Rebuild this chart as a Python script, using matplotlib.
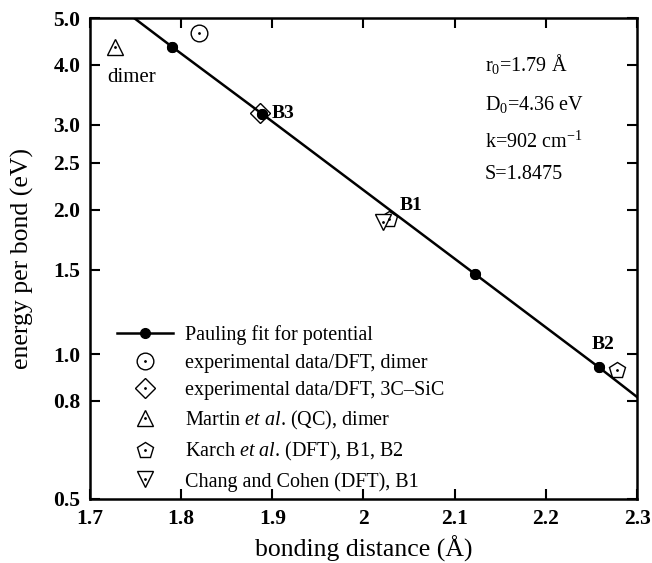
import matplotlib
matplotlib.use("Agg")
import matplotlib.pyplot as plt

plt.rcParams["font.family"] = "Liberation Serif"
plt.rcParams["mathtext.fontset"] = "custom"
plt.rcParams["mathtext.rm"] = "Liberation Serif"
plt.rcParams["mathtext.it"] = "Liberation Serif:italic"
plt.rcParams["mathtext.bf"] = "Liberation Serif:bold"

# Pauling fit line (ends + the fitted points shown as dots)
fit_x = [1.745, 1.79, 1.889, 2.122, 2.258, 2.30]
fit_y = [5.06, 4.36, 3.16, 1.47, 0.94, 0.815]

# reference data
exp_dimer_x = [1.820]
exp_dimer_y = [4.65]
exp_sic_x = [1.887]
exp_sic_y = [3.17]
martin_x = [1.727]
martin_y = [4.36]
karch_x = [2.028, 2.278]
karch_y = [1.91, 0.927]
chang_x = [2.021]
chang_y = [1.88]

xticks = [1.7, 1.8, 1.9, 2.0, 2.1, 2.2, 2.3]
xticklabels = ["1.7", "1.8", "1.9", "2", "2.1", "2.2", "2.3"]
yticks = [0.5, 0.8, 1.0, 1.5, 2.0, 2.5, 3.0, 4.0, 5.0]

params = [r"r$_0$=1.79 Å", r"D$_0$=4.36 eV", r"k=902 cm$^{-1}$", "S=1.8475"]

fig = plt.figure(figsize=(6.52, 5.63), dpi=100)
ax = fig.add_axes([0.138, 0.1137, 0.839, 0.854])

def hollow(x, y, m, ms):
    h1, = ax.plot(x, y, ls="none", marker=m, ms=ms, mfc="white", mec="k", mew=1.0, zorder=3)
    h2, = ax.plot(x, y, ls="none", marker=".", ms=2, color="k", zorder=4)
    return (h1, h2)

fit, = ax.plot(fit_x, fit_y, color="k", lw=1.8, marker="o", ms=7,
               markevery=[1, 2, 3, 4], zorder=5)
h_circ = hollow(exp_dimer_x, exp_dimer_y, "o", 12)
h_diam = hollow(exp_sic_x, exp_sic_y, "D", 10)
h_tri = hollow(martin_x, martin_y, "^", 11)
h_pent = hollow(karch_x, karch_y, "p", 12)
h_tdn = hollow(chang_x, chang_y, "v", 11)
ax.plot(fit_x[1:5], fit_y[1:5], ls="none", marker="o", ms=7, color="k", zorder=6)

ax.set_yscale("log")
ax.set_xlim(1.7, 2.3)
ax.set_ylim(0.5, 5.0)
ax.set_xticks(xticks)
ax.set_xticklabels(xticklabels)
ax.set_yticks(yticks)
ax.set_yticklabels(["%.1f" % v for v in yticks])
ax.yaxis.set_minor_locator(matplotlib.ticker.NullLocator())
ax.tick_params(direction="in", top=True, right=True, length=7, width=1.5,
               labelsize=15.5, pad=7)
for lab in ax.get_xticklabels() + ax.get_yticklabels():
    lab.set_fontweight("bold")
for s in ax.spines.values():
    s.set_linewidth(1.8)

ax.set_xlabel("bonding distance (Å)", fontsize=18.5, labelpad=5)
ax.set_ylabel("energy per bond (eV)", fontsize=18.5, labelpad=14)

ax.text(1.719, 3.77, "dimer", fontsize=15, va="center", ha="left")
ax.text(1.899, 3.17, "B3", fontsize=14, fontweight="bold", va="center")
ax.text(2.040, 2.04, "B1", fontsize=14, fontweight="bold", va="center")
ax.text(2.263, 1.05, "B2", fontsize=14, fontweight="bold", va="center", ha="center")

for i, t in enumerate(params):
    ax.text(0.722, [0.904, 0.821, 0.742, 0.674][i], t, fontsize=14.5,
            transform=ax.transAxes, va="center")

labels = ["Pauling fit for potential",
          "experimental data/DFT, dimer",
          "experimental data/DFT, 3C\u2013SiC",
          r"Martin $\mathit{et}$ $\mathit{al}$. (QC), dimer",
          r"Karch $\mathit{et}$ $\mathit{al}$. (DFT), B1, B2",
          "Chang and Cohen (DFT), B1"]
ax.legend([fit, h_circ, h_diam, h_tri, h_pent, h_tdn], labels,
          loc="lower left", bbox_to_anchor=(0.02, -0.018), frameon=False,
          fontsize=14.5, handlelength=2.8, handletextpad=0.6,
          labelspacing=0.42, borderpad=0.3)

fig.savefig("out.png", dpi=100)
